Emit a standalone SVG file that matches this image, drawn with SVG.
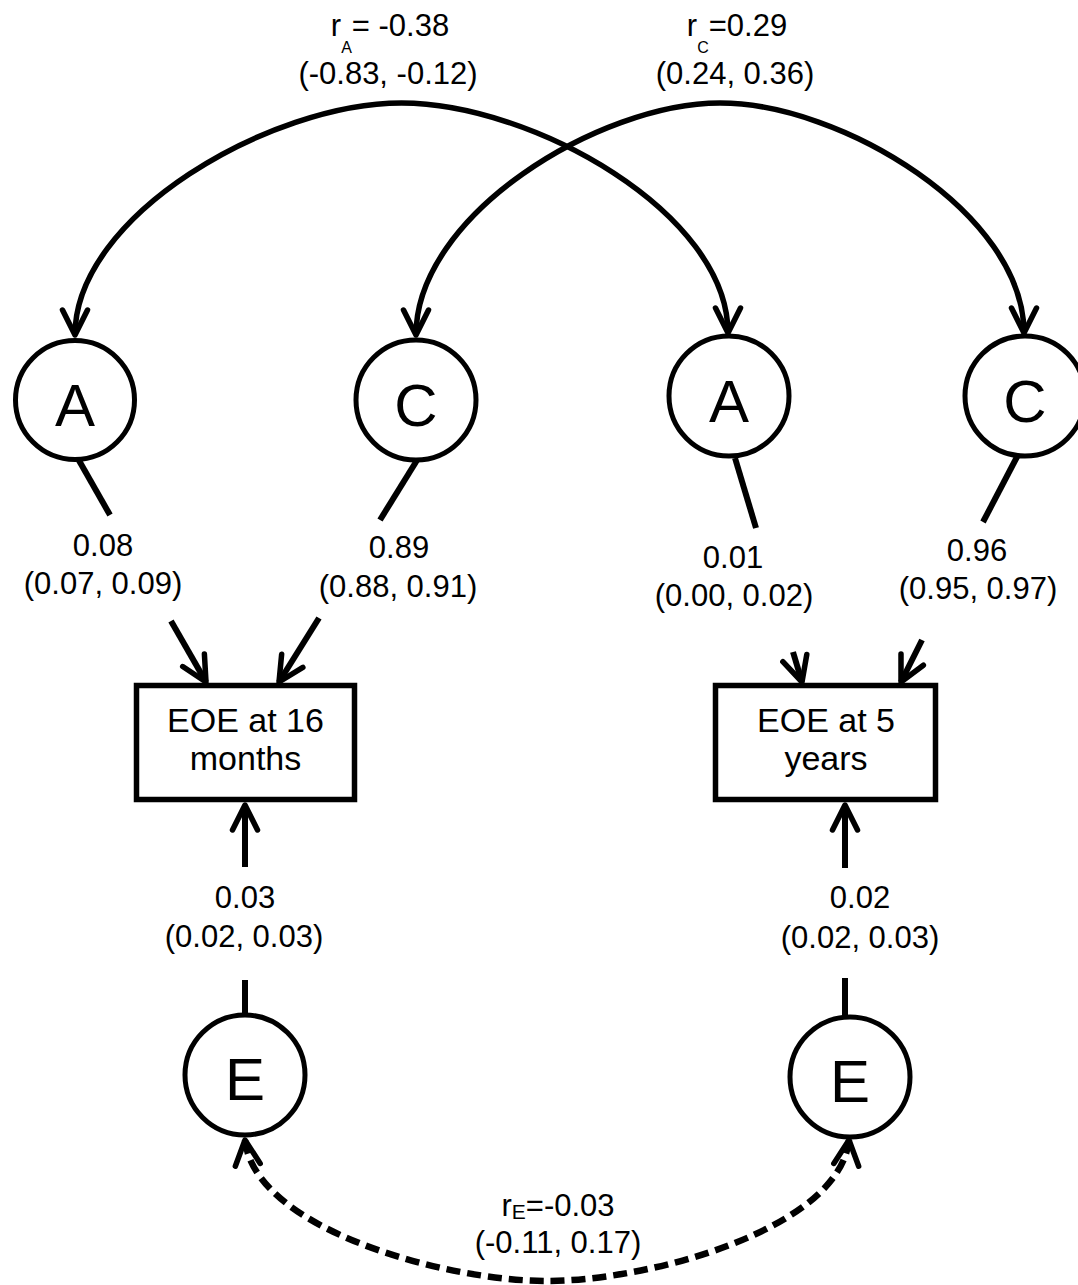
<svg xmlns="http://www.w3.org/2000/svg" width="1078" height="1285" viewBox="0 0 1078 1285">
  <style>
    .bg { fill: #ffffff; }
    .latent { fill: #ffffff; stroke: #000000; stroke-width: 5; }
    .observed { fill: #ffffff; stroke: #000000; stroke-width: 5.5; }
    .path { fill: none; stroke: #000000; stroke-width: 6; stroke-linecap: butt; }
    .cov { fill: none; stroke: #000000; stroke-width: 5.5; }
    .cov-e { fill: none; stroke: #000000; stroke-width: 6.5; stroke-dasharray: 14 7; }
    .lbl { font-family: "Liberation Sans", Arial, sans-serif; font-size: 31px; fill: #000000; text-anchor: middle; }
    .box-lbl { font-family: "Liberation Sans", Arial, sans-serif; font-size: 34px; fill: #000000; text-anchor: middle; }
    .node-lbl { font-family: "Liberation Sans", Arial, sans-serif; font-size: 60px; fill: #000000; text-anchor: middle; }
  </style>
  <defs>
    <marker id="head" markerUnits="userSpaceOnUse" markerWidth="40" markerHeight="40" viewBox="-32 -20 40 40" refX="0" refY="0" orient="auto-start-reverse" overflow="visible">
      <path d="M -25 -12.5 L 0 0 L -25 12.5" fill="none" stroke="#000000" stroke-width="5.5" stroke-linecap="round" stroke-linejoin="round" stroke-dasharray="none"/>
    </marker>
  </defs>

  <rect class="bg" x="0" y="0" width="1078" height="1285"/>

  <!-- connectors: covariance arcs and path coefficients -->
  <g id="connectors">
    <!-- genetic correlation between the two A factors -->
    <path class="cov" d="M 75 335 C 75 215, 271 103, 401.5 103 C 532 103, 728 213, 728 333" marker-start="url(#head)" marker-end="url(#head)"/>
    <!-- shared-environment correlation between the two C factors -->
    <path class="cov" d="M 416 335 C 416 215, 599 103, 720 103 C 841 103, 1024 213, 1024 333" marker-start="url(#head)" marker-end="url(#head)"/>
    <!-- non-shared environment correlation -->
    <path class="cov-e" d="M 245 1140 C 255 1230, 447 1281, 547 1281 C 647 1281, 839 1230, 849 1140" marker-start="url(#head)" marker-end="url(#head)"/>

    <!-- A (16 months) to EOE at 16 months -->
    <line class="path" x1="77" y1="457" x2="110" y2="515"/>
    <line class="path" x1="171" y1="621" x2="206" y2="682" marker-end="url(#head)"/>
    <!-- C (16 months) to EOE at 16 months -->
    <line class="path" x1="419" y1="457" x2="380" y2="520"/>
    <line class="path" x1="319" y1="618" x2="279" y2="682" marker-end="url(#head)"/>
    <!-- A (5 years) to EOE at 5 years -->
    <line class="path" x1="735" y1="458" x2="756" y2="528"/>
    <line class="path" x1="793" y1="652" x2="802" y2="682" marker-end="url(#head)"/>
    <!-- C (5 years) to EOE at 5 years -->
    <line class="path" x1="1018" y1="455" x2="983" y2="522"/>
    <line class="path" x1="922" y1="640" x2="901" y2="682" marker-end="url(#head)"/>
    <!-- E factors to their measures -->
    <line class="path" x1="245" y1="1014" x2="245" y2="980"/>
    <line class="path" x1="245" y1="867" x2="245" y2="805" marker-end="url(#head)"/>
    <line class="path" x1="845" y1="1016" x2="845" y2="978"/>
    <line class="path" x1="845" y1="868" x2="845" y2="805" marker-end="url(#head)"/>
  </g>

  <!-- coefficient labels -->
  <g id="labels">
    <text class="lbl" x="390" y="36">r<tspan font-size="16" dy="17">A</tspan><tspan dy="-17">= -0.38</tspan></text>
    <text class="lbl" x="388" y="84">(-0.83, -0.12)</text>
    <text class="lbl" x="737" y="36">r<tspan font-size="16" dy="17">C</tspan><tspan dy="-17">=0.29</tspan></text>
    <text class="lbl" x="735" y="84">(0.24, 0.36)</text>

    <text class="lbl" x="103" y="556">0.08</text>
    <text class="lbl" x="103" y="594">(0.07, 0.09)</text>
    <text class="lbl" x="399" y="558">0.89</text>
    <text class="lbl" x="398" y="597">(0.88, 0.91)</text>
    <text class="lbl" x="733" y="568">0.01</text>
    <text class="lbl" x="734" y="606">(0.00, 0.02)</text>
    <text class="lbl" x="977" y="561">0.96</text>
    <text class="lbl" x="978" y="599">(0.95, 0.97)</text>

    <text class="lbl" x="245" y="908">0.03</text>
    <text class="lbl" x="244" y="947">(0.02, 0.03)</text>
    <text class="lbl" x="860" y="908">0.02</text>
    <text class="lbl" x="860" y="948">(0.02, 0.03)</text>

    <text class="lbl" x="558" y="1216">r<tspan font-size="21" dy="3">E</tspan><tspan dy="-3">=-0.03</tspan></text>
    <text class="lbl" x="558" y="1253">(-0.11, 0.17)</text>
  </g>

  <!-- latent factors, 16 months -->
  <g id="A1">
    <circle class="latent" cx="75" cy="400" r="59.5"/>
    <text class="node-lbl" x="75" y="426">A</text>
  </g>
  <g id="C1">
    <circle class="latent" cx="416" cy="400" r="60"/>
    <text class="node-lbl" x="416" y="426">C</text>
  </g>
  <!-- latent factors, 5 years -->
  <g id="A2">
    <circle class="latent" cx="729" cy="396" r="60"/>
    <text class="node-lbl" x="729" y="422">A</text>
  </g>
  <g id="C2">
    <circle class="latent" cx="1025" cy="396" r="60"/>
    <text class="node-lbl" x="1025" y="422">C</text>
  </g>

  <!-- measured variables -->
  <g id="EOE16">
    <rect class="observed" x="136.5" y="685.5" width="218" height="114"/>
    <text class="box-lbl" x="245.5" y="732">EOE at 16</text>
    <text class="box-lbl" x="245.5" y="770">months</text>
  </g>
  <g id="EOE5">
    <rect class="observed" x="715.5" y="685.5" width="220" height="114"/>
    <text class="box-lbl" x="826" y="732">EOE at 5</text>
    <text class="box-lbl" x="826" y="770">years</text>
  </g>

  <!-- non-shared environment factors -->
  <g id="E1">
    <circle class="latent" cx="245" cy="1075" r="60"/>
    <text class="node-lbl" x="245" y="1100">E</text>
  </g>
  <g id="E2">
    <circle class="latent" cx="850" cy="1077" r="60"/>
    <text class="node-lbl" x="850" y="1102">E</text>
  </g>
</svg>
